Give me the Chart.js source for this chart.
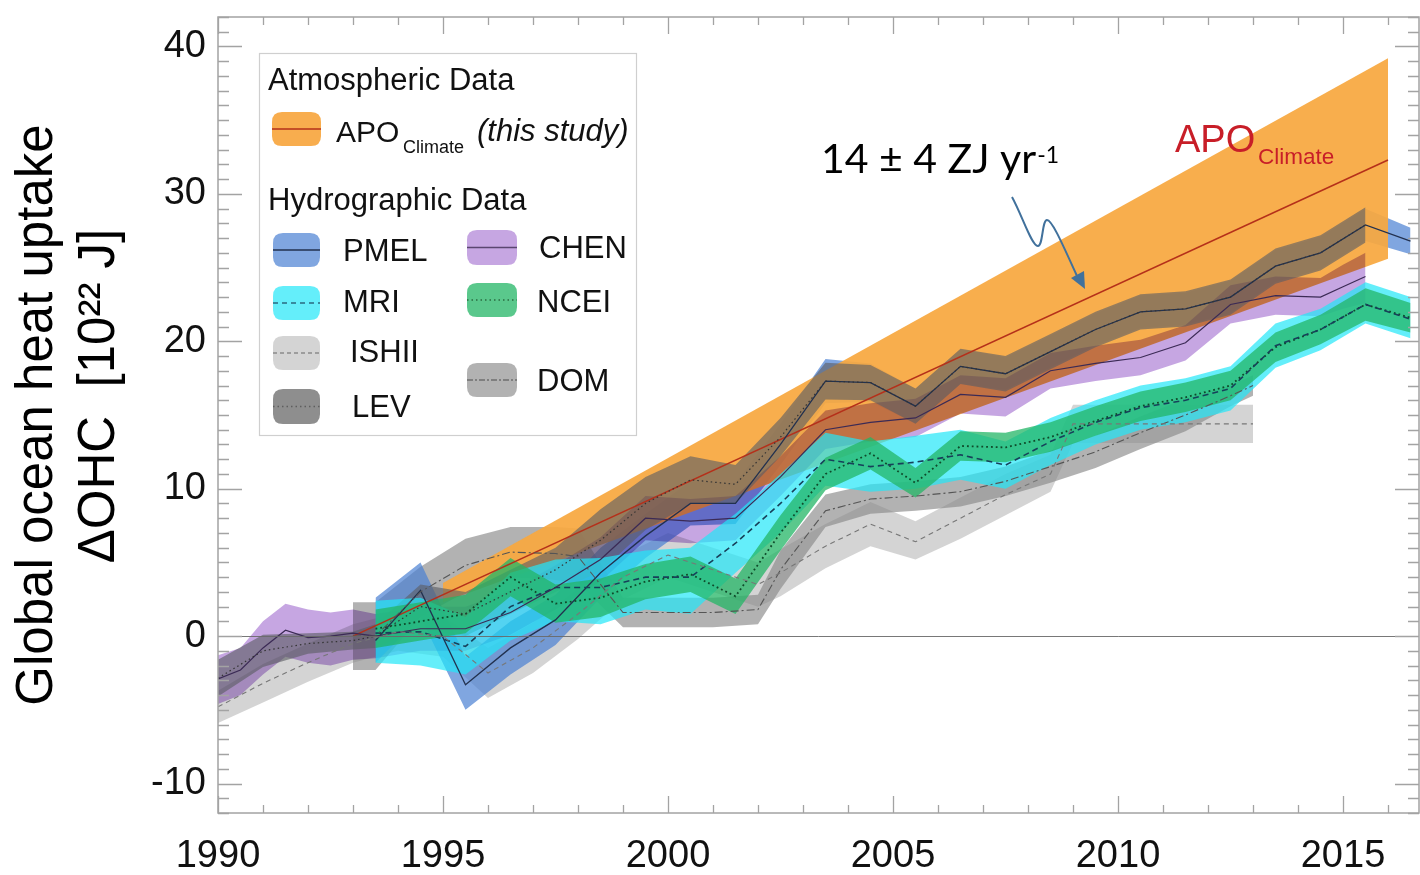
<!DOCTYPE html>
<html>
<head>
<meta charset="utf-8">
<title>Global ocean heat uptake</title>
<script src="https://cdn.jsdelivr.net/npm/chart.js@4.4.1/dist/chart.umd.min.js"></script>
<style>
  html, body { margin: 0; padding: 0; background: #ffffff; }
  canvas { display: block; }
</style>
</head>
<body>
<canvas id="ohc" width="1420" height="875"></canvas>
<script>
// ---------------- data (10^22 J) ----------------
// APO_Climate trend band and central line
const apoBandYears = [1995.0, 2016.0];
const apoBandLow   = [2.3, 25.6];
const apoBandHigh  = [3.6, 39.2];
const apoLineYears = [1993.0, 2016.0];
const apoLineVals  = [0.0, 32.3];

// PMEL
const pmelYears = [1993.5,1994.5,1995.5,1996.5,1997.5,1998.5,1999.5,2000.5,2001.5,2002.5,2003.5,2004.5,2005.5,2006.5,2007.5,2008.5,2009.5,2010.5,2011.5,2012.5,2013.5,2014.5,2015.5,2016.5];
const pmelMid  = [-0.3,3.1,-3.3,-0.8,1.1,4.3,6.8,9.0,9.0,13.0,17.3,17.2,15.6,18.3,17.8,19.3,20.8,22.0,22.2,23.0,25.1,26.0,27.9,26.8];
const pmelLow  = [-1.8,1.3,-5.0,-2.6,-0.6,2.6,5.3,7.5,7.6,11.6,15.8,15.9,14.4,17.1,16.7,18.2,19.7,20.9,21.1,21.9,24.0,24.9,26.8,25.9];
const pmelHigh = [2.6,5.0,-1.4,1.0,2.8,6.0,8.3,10.5,10.4,14.4,18.8,18.5,16.8,19.5,18.9,20.4,21.9,23.1,23.3,24.1,26.2,27.1,29.0,27.7];

// CHEN
const chenYears = [1990.0,1990.5,1991.0,1991.5,1992.0,1992.5,1993.0,1993.5,1994.5,1995.5,1996.5,1997.5,1998.5,1999.5,2000.5,2001.5,2002.5,2003.5,2004.5,2005.5,2006.5,2007.5,2008.5,2009.5,2010.5,2011.5,2012.5,2013.5,2014.5,2015.0,2015.5];
const chenMid  = [-2.9,-2.3,-0.8,0.4,-0.1,0.0,0.2,0.0,0.5,0.5,1.6,3.3,5.2,8.0,7.8,8.0,10.8,14.0,14.5,14.8,16.4,16.2,18.0,18.5,18.9,19.9,22.5,23.1,23.0,23.7,24.4];
const chenLow  = [-4.6,-4.0,-2.6,-1.4,-1.8,-2.0,-1.6,-1.5,-1.0,-1.0,0.1,1.8,3.7,6.5,6.3,6.5,9.5,12.7,13.2,13.5,15.1,14.9,16.8,17.3,17.7,18.7,21.2,21.8,21.7,22.2,22.6];
const chenHigh = [-1.3,-0.8,1.0,2.2,1.8,1.6,1.8,1.5,2.0,2.0,3.1,4.8,6.7,9.5,9.3,9.5,12.2,15.3,15.8,16.1,17.7,17.5,19.2,19.7,20.1,21.1,23.8,24.4,24.3,25.2,26.0];

// MRI
const mriYears = [1993.5,1994.5,1995.5,1996.5,1997.5,1998.5,1999.5,2000.5,2001.5,2002.5,2003.5,2004.5,2005.5,2006.5,2007.5,2008.5,2009.5,2010.5,2011.5,2012.5,2013.5,2014.5,2015.5,2016.5];
const mriMid  = [0.2,0.3,-0.7,2.0,3.3,3.3,4.0,4.0,6.3,9.0,12.0,11.5,11.8,12.3,11.6,13.2,14.5,15.5,16.0,16.8,19.7,20.8,22.5,21.5];
const mriLow  = [-1.8,-2.0,-2.6,-0.3,1.0,0.8,1.8,1.5,4.3,7.0,10.2,9.8,10.0,10.6,10.0,11.6,13.0,14.0,14.5,15.3,18.2,19.4,21.2,20.2];
const mriHigh = [2.4,2.6,1.3,4.3,5.2,5.3,5.8,6.0,8.3,11.0,13.8,13.2,13.6,14.0,13.2,14.8,16.0,17.0,17.5,18.3,21.2,22.2,24.0,23.0];

// NCEI
const nceiYears = [1993.5,1994.5,1995.5,1996.5,1997.5,1998.5,1999.5,2000.5,2001.5,2002.5,2003.5,2004.5,2005.5,2006.5,2007.5,2008.5,2009.5,2010.5,2011.5,2012.5,2013.5,2014.5,2015.5,2016.5];
const nceiMid  = [0.5,1.0,1.5,4.0,2.2,2.6,3.7,4.2,2.7,7.0,11.0,12.4,10.4,12.9,12.8,13.5,14.6,15.6,16.2,17.0,19.6,20.8,22.5,21.6];
const nceiLow  = [-0.8,-0.3,0.2,2.7,0.9,1.3,2.5,3.0,1.5,5.8,9.9,11.3,9.4,11.9,11.8,12.5,13.6,14.6,15.2,16.0,18.6,19.8,21.4,20.6];
const nceiHigh = [1.8,2.3,2.8,5.3,3.5,3.9,4.9,5.4,3.9,8.2,12.1,13.5,11.4,13.9,13.8,14.5,15.6,16.6,17.2,18.0,20.6,21.8,23.6,22.6];

// ISHII
const ishiiYears = [1990.0,1991.0,1992.0,1993.0,1994.0,1995.0,1996.0,1997.0,1998.0,1999.0,2000.0,2001.0,2002.0,2002.5,2003.5,2004.5,2005.5,2006.5,2007.5,2008.5,2009.0,2013.0];
const ishiiMid  = [-4.8,-3.2,-1.8,-0.5,0.3,0.0,-2.5,-0.8,1.5,4.0,5.5,4.5,3.5,4.3,6.1,7.6,6.4,8.0,9.6,11.0,14.4,14.4];
const ishiiLow  = [-5.9,-4.5,-3.1,-1.8,-1.0,-1.4,-4.2,-2.5,-0.2,2.5,4.0,3.0,2.0,2.7,4.6,6.1,5.2,6.6,8.2,9.8,13.1,13.1];
const ishiiHigh = [-3.7,-1.9,-0.5,0.8,1.6,1.4,-0.8,0.9,3.2,5.5,7.0,6.0,5.0,5.9,7.6,9.1,7.8,9.4,11.0,12.3,15.7,15.7];

// LEV
const levYears = [1990.0,1991.0,1992.0,1993.0,1993.5,1994.5,1995.5,1996.5,1997.5,1998.5,1999.5,2000.5,2001.5,2002.5,2003.5,2004.5,2005.5,2006.5,2007.5,2008.5,2009.5,2010.5,2011.5,2012.5,2013.5,2014.5,2015.5];
const levMid  = [-2.85,-1.0,-0.5,-0.3,0.0,2.0,1.5,3.0,4.5,6.5,9.0,10.6,10.3,13.5,17.3,17.2,15.6,18.3,17.8,19.3,20.8,22.0,22.2,23.0,25.1,26.0,27.9];
const levLow  = [-4.1,-2.1,-1.2,-0.9,-0.8,0.5,0.0,1.5,3.0,4.4,7.2,9.0,9.0,12.2,16.05,16.0,14.4,17.1,16.6,18.1,19.6,20.8,21.0,21.8,23.9,24.8,26.7];
const levHigh = [-1.6,0.1,0.2,0.3,0.8,3.5,3.0,4.5,6.0,8.6,10.8,12.2,11.6,14.8,18.55,18.4,16.8,19.5,19.0,20.5,22.0,23.2,23.4,24.2,26.3,27.2,29.1];

// DOM
const domYears = [1993.0,1993.5,1994.5,1995.5,1996.5,1997.5,1998.0,1999.0,2000.0,2001.0,2002.0,2002.5,2003.5,2004.5,2005.5,2006.5,2007.5,2008.5,2009.5,2010.5,2011.5,2012.5,2013.0];
const domMid  = [0.0,0.0,3.0,4.8,5.7,5.6,5.4,1.6,1.6,1.6,1.8,4.5,8.5,9.3,9.5,9.8,10.5,11.5,12.5,13.8,15.0,16.3,17.0];
const domLow  = [-2.3,-2.3,1.3,3.0,4.0,3.8,3.6,0.6,0.6,0.6,0.8,3.2,7.4,8.3,8.5,8.8,9.5,10.4,11.4,12.7,13.9,15.6,16.3];
const domHigh = [2.3,2.3,4.7,6.6,7.4,7.4,7.3,2.6,2.6,2.6,2.8,5.8,9.6,10.3,10.5,10.8,11.5,12.6,13.6,14.9,16.1,17.0,17.7];

// axis ticks
const xTickStep = 5;
const yTickStep = 10;

// ---------------- styles ----------------
const FONT = '"Liberation Sans", Arial, Helvetica, sans-serif';
const C = {
  apo:   'rgba(247,168,64,0.93)',    apoSw: '#f8ad4e',  apoLn: '#b5301a',
  pmel:  'rgba(74,128,211,0.70)',   pmelSw: '#80a6e0', pmelLn: '#22314f',
  chen:  '#c6a6e2',                  chenSw: '#c6a6e2', chenLn: '#3b2a55',
  mri:   'rgba(34,231,248,0.70)',    mriSw: '#64eefa',  mriLn: '#17405a',
  ncei:  'rgba(35,182,102,0.75)',    nceiSw: '#5ac88c', nceiLn: '#0f4a2a',
  ishii: 'rgba(183,183,183,0.60)',   ishiiSw: '#d4d4d4', ishiiLn: '#777777',
  dom:   'rgba(137,137,137,0.65)',   domSw: '#b2b2b2',  domLn: '#555555',
  lev:   'rgba(92,94,100,0.62)',     levSw: '#8e8e8e',  levLn: '#333333'
};

// ---------------- datasets ----------------
const datasets = [];
function pts(xs, ys) { return xs.map((x, i) => ({ x: x, y: ys[i] })); }
function addBand(name, xs, lo, hi, color, order, blend) {
  const loIdx = datasets.length;
  datasets.push({ label: name + ' low', data: pts(xs, lo), borderWidth: 0, borderColor: 'rgba(0,0,0,0)',
                  pointRadius: 0, fill: false, order: order, blend: blend });
  datasets.push({ label: name + ' high', data: pts(xs, hi), borderWidth: 0, borderColor: 'rgba(0,0,0,0)',
                  backgroundColor: color, pointRadius: 0, fill: loIdx, order: order, blend: blend });
}
function addLine(name, xs, ys, color, dash, width) {
  datasets.push({ label: name, data: pts(xs, ys), borderColor: color, borderDash: dash, borderWidth: width,
                  pointRadius: 0, fill: false, order: 0, tension: 0 });
}

// bands, drawn from the highest order (back) to the lowest (front)
addBand('ISHII', ishiiYears, ishiiLow, ishiiHigh, C.ishii, 90);
addBand('DOM',   domYears, domLow, domHigh, C.dom, 80);
addBand('PMEL',  pmelYears, pmelLow, pmelHigh, C.pmel, 70);
addBand('APO',   apoBandYears, apoBandLow, apoBandHigh, C.apo, 60);
addBand('CHEN',  chenYears, chenLow, chenHigh, C.chen, 50, 'multiply');
addBand('LEV',   levYears, levLow, levHigh, C.lev, 40);
addBand('MRI',   mriYears, mriLow, mriHigh, C.mri, 30);
addBand('NCEI',  nceiYears, nceiLow, nceiHigh, C.ncei, 20);

addLine('ISHII', ishiiYears, ishiiMid, C.ishiiLn, [5, 4], 1.1);
addLine('DOM',   domYears, domMid, C.domLn, [8, 3, 2, 3], 1.1);
addLine('LEV',   levYears, levMid, C.levLn, [1.5, 3], 1.2);
addLine('CHEN',  chenYears, chenMid, C.chenLn, [], 1.2);
addLine('MRI',   mriYears, mriMid, C.mriLn, [6, 4], 1.6);
addLine('NCEI',  nceiYears, nceiMid, C.nceiLn, [1.8, 3], 1.8);
addLine('PMEL',  pmelYears, pmelMid, C.pmelLn, [], 1.3);
addLine('APO',   apoLineYears, apoLineVals, C.apoLn, [], 1.6);

// ---------------- plugins ----------------
const whiteBg = {
  id: 'whiteBg',
  beforeDraw(chart) {
    const ctx = chart.ctx;
    ctx.save();
    ctx.fillStyle = '#ffffff';
    ctx.fillRect(0, 0, chart.width, chart.height);
    ctx.restore();
  }
};

// per-dataset compositing: set the operation for the next dataset to be drawn
function setOp(chart, idx) {
  const ds = chart.data.datasets[idx];
  chart.ctx.globalCompositeOperation = (ds && ds.blend) || 'source-over';
}
const blendPlugin = {
  id: 'blend',
  beforeDatasetsDraw(chart) {
    chart.$drawSeq = chart.getSortedVisibleDatasetMetas().map(m => m.index).reverse();
    if (chart.$drawSeq.length) setOp(chart, chart.$drawSeq[0]);
  },
  afterDatasetDraw(chart, args) {
    const seq = chart.$drawSeq || [];
    const pos = seq.indexOf(args.index);
    if (pos >= 0 && pos + 1 < seq.length) setOp(chart, seq[pos + 1]);
    else chart.ctx.globalCompositeOperation = 'source-over';
  },
  afterDatasetsDraw(chart) { chart.ctx.globalCompositeOperation = 'source-over'; }
};

// frame, inward tick marks and zero line
const framePlugin = {
  id: 'frame',
  afterDatasetsDraw(chart) {
    const ctx = chart.ctx, a = chart.chartArea, xs = chart.scales.x, ys = chart.scales.y;
    ctx.save();
    const y0 = Math.round(ys.getPixelForValue(0)) + 0.5;
    ctx.strokeStyle = 'rgba(105,105,105,0.9)';
    ctx.lineWidth = 1;
    ctx.beginPath(); ctx.moveTo(a.left, y0); ctx.lineTo(a.right, y0); ctx.stroke();
    ctx.strokeStyle = '#a3a3a3';
    ctx.lineWidth = 1.5;
    ctx.strokeRect(a.left, a.top, a.right - a.left, a.bottom - a.top);
    ctx.lineWidth = 1.3;
    ctx.beginPath();
    for (let yr = Math.ceil(xs.min); yr <= xs.max; yr++) {
      const px = Math.round(xs.getPixelForValue(yr)) + 0.5;
      const len = (yr % 5 === 0) ? 17 : 8;
      ctx.moveTo(px, a.bottom); ctx.lineTo(px, a.bottom - len);
      ctx.moveTo(px, a.top); ctx.lineTo(px, a.top + len);
    }
    for (let v = Math.ceil(ys.min); v <= ys.max; v++) {
      const py = Math.round(ys.getPixelForValue(v)) + 0.5;
      const len = (v % 10 === 0) ? 24 : 11;
      ctx.moveTo(a.left, py); ctx.lineTo(a.left + len, py);
      ctx.moveTo(a.right, py); ctx.lineTo(a.right - len, py);
    }
    ctx.stroke();
    ctx.restore();
  }
};

function roundRectPath(ctx, x, y, w, h, r) {
  ctx.beginPath();
  ctx.moveTo(x + r, y);
  ctx.lineTo(x + w - r, y);
  ctx.quadraticCurveTo(x + w, y, x + w, y + r);
  ctx.lineTo(x + w, y + h - r);
  ctx.quadraticCurveTo(x + w, y + h, x + w - r, y + h);
  ctx.lineTo(x + r, y + h);
  ctx.quadraticCurveTo(x, y + h, x, y + h - r);
  ctx.lineTo(x, y + r);
  ctx.quadraticCurveTo(x, y, x + r, y);
  ctx.closePath();
}
function swatch(ctx, x, y, w, h, fill, lineColor, dash) {
  ctx.save();
  ctx.fillStyle = fill;
  roundRectPath(ctx, x, y, w, h, 10);
  ctx.fill();
  ctx.strokeStyle = lineColor;
  ctx.lineWidth = 1.5;
  ctx.setLineDash(dash);
  ctx.beginPath();
  ctx.moveTo(x, y + h / 2); ctx.lineTo(x + w, y + h / 2);
  ctx.stroke();
  ctx.restore();
}

const decorPlugin = {
  id: 'decor',
  afterDraw(chart) {
    const ctx = chart.ctx;
    ctx.save();
    ctx.fillStyle = '#000';
    ctx.textAlign = 'left';
    ctx.textBaseline = 'alphabetic';

    // y axis title (two lines)
    ctx.font = '51px ' + FONT;
    ctx.save(); ctx.translate(52, 415); ctx.rotate(-Math.PI / 2);
    ctx.textAlign = 'center'; ctx.fillText('Global ocean heat uptake', 0, 0); ctx.restore();
    ctx.save(); ctx.translate(114, 396); ctx.rotate(-Math.PI / 2);
    ctx.textAlign = 'center'; ctx.fillText('\u0394OHC  [10\u00B2\u00B2 J]', 0, 0); ctx.restore();

    // legend box
    ctx.fillStyle = '#ffffff';
    ctx.fillRect(259.5, 53.5, 377, 382);
    ctx.strokeStyle = '#cfcfcf';
    ctx.lineWidth = 1.2;
    ctx.strokeRect(259.5, 53.5, 377, 382);

    ctx.fillStyle = '#111';
    ctx.font = '31px ' + FONT;
    ctx.fillText('Atmospheric Data', 268, 90);
    ctx.fillText('Hydrographic Data', 268, 210);

    swatch(ctx, 272, 112, 49, 34, C.apoSw, C.apoLn, []);
    ctx.fillStyle = '#111';
    ctx.font = '30px ' + FONT;
    ctx.fillText('APO', 336, 142);
    ctx.font = '18px ' + FONT;
    ctx.fillText('Climate', 403, 153);
    ctx.font = 'italic 31px ' + FONT;
    ctx.fillText('(this study)', 477, 141);

    const items = [
      { t: 'PMEL',  sx: 273, sy: 233, sw: 47, sh: 34, tx: 343, ty: 261, f: C.pmelSw,  l: C.pmelLn,  d: [] },
      { t: 'CHEN',  sx: 467, sy: 230, sw: 50, sh: 35, tx: 539, ty: 258, f: C.chenSw,  l: '#5a4670', d: [] },
      { t: 'MRI',   sx: 273, sy: 286, sw: 47, sh: 34, tx: 343, ty: 312, f: C.mriSw,   l: '#2a6a80', d: [5, 4] },
      { t: 'NCEI',  sx: 467, sy: 283, sw: 50, sh: 34, tx: 537, ty: 312, f: C.nceiSw,  l: '#2a6a40', d: [1.5, 3] },
      { t: 'ISHII', sx: 273, sy: 336, sw: 47, sh: 34, tx: 350, ty: 362, f: C.ishiiSw, l: '#8a8a8a', d: [4, 3] },
      { t: 'DOM',   sx: 467, sy: 363, sw: 50, sh: 34, tx: 537, ty: 391, f: C.domSw,   l: '#6f6f6f', d: [6, 2, 2, 2] },
      { t: 'LEV',   sx: 273, sy: 389, sw: 47, sh: 35, tx: 352, ty: 417, f: C.levSw,   l: '#5e5e5e', d: [1.5, 3] }
    ];
    ctx.font = '31px ' + FONT;
    for (const it of items) {
      swatch(ctx, it.sx, it.sy, it.sw, it.sh, it.f, it.l, it.d);
      ctx.fillStyle = '#111';
      ctx.fillText(it.t, it.tx, it.ty);
    }

    // APO_Climate label in the plot
    ctx.fillStyle = '#c81e28';
    ctx.font = '38px ' + FONT;
    ctx.fillText('APO', 1175, 152);
    ctx.font = '22.5px ' + FONT;
    ctx.fillText('Climate', 1258, 164);

    // trend annotation with arrow
    ctx.fillStyle = '#000';
    ctx.font = '41px Lato, "Open Sans", sans-serif';
    const main = '14 \u00B1 4 ZJ yr';
    ctx.fillText(main, 821, 173);
    const w = ctx.measureText(main).width;
    ctx.font = '23px Lato, "Open Sans", sans-serif';
    ctx.fillText('-1', 821 + w + 1, 163);

    ctx.strokeStyle = '#41719c';
    ctx.fillStyle = '#41719c';
    ctx.lineWidth = 2;
    ctx.beginPath();
    ctx.moveTo(1012, 197);
    ctx.bezierCurveTo(1022, 215, 1032, 247, 1038, 246);
    ctx.bezierCurveTo(1043, 246, 1042, 220, 1047, 220);
    ctx.bezierCurveTo(1052, 220, 1062, 243, 1077, 276);
    ctx.stroke();
    ctx.beginPath();
    ctx.moveTo(1085, 289); ctx.lineTo(1071, 278); ctx.lineTo(1084, 271); ctx.closePath();
    ctx.fill();

    ctx.restore();
  }
};

// ---------------- chart ----------------
new Chart(document.getElementById('ohc'), {
  type: 'line',
  data: { datasets: datasets },
  options: {
    responsive: false,
    animation: false,
    devicePixelRatio: 1,
    events: [],
    layout: { padding: { top: 17, right: 1, left: 0, bottom: 0 } },
    plugins: { legend: { display: false }, tooltip: { enabled: false }, title: { display: false } },
    scales: {
      x: {
        type: 'linear', min: 1990, max: 2016.689,
        grid: { display: false, drawTicks: false }, border: { display: false },
        ticks: { stepSize: xTickStep, includeBounds: false, autoSkip: false, maxRotation: 0, padding: 21,
                 color: '#111', font: { family: FONT, size: 38 }, callback: v => String(v) },
        afterFit: s => { s.height = 62; s.paddingLeft = 0; s.paddingRight = 0; }
      },
      y: {
        type: 'linear', min: -12, max: 42,
        grid: { display: false, drawTicks: false }, border: { display: false },
        ticks: { stepSize: yTickStep, includeBounds: false, padding: 12,
                 color: '#111', font: { family: FONT, size: 38 }, callback: v => String(v) },
        afterFit: s => { s.width = 218; s.paddingTop = 0; s.paddingBottom = 0; }
      }
    }
  },
  plugins: [whiteBg, blendPlugin, framePlugin, decorPlugin]
});
</script>
</body>
</html>
